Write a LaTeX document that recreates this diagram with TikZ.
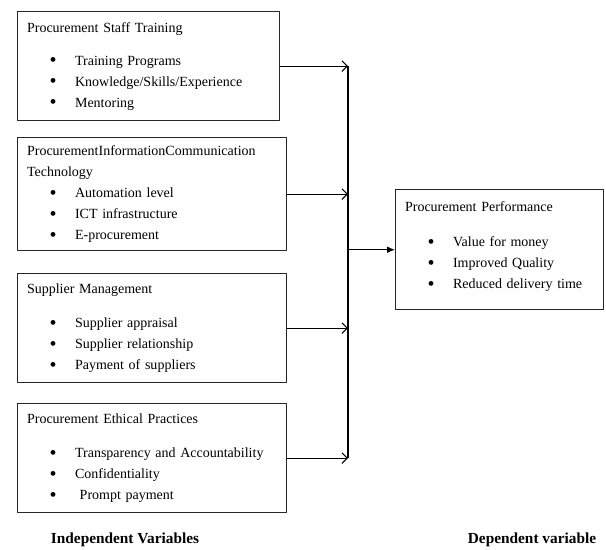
\documentclass[tikz,border=0pt]{standalone}
\usepackage{fontspec}
\setmainfont{Liberation Serif}
\usetikzlibrary{arrows.meta}
\newcommand{\bitem}[1]{\hspace*{17pt}\makebox[19pt][l]{\raisebox{-0.25ex}{\fontsize{15}{15}\selectfont\textbullet}}#1}

\begin{document}
\begin{tikzpicture}[x=0.75pt, y=-0.75pt, line join=round,
  varbox/.style={draw=black!85, line width=1.1pt, anchor=north west, align=left,
    inner xsep=7pt, font=\fontsize{10.5}{15.75}\selectfont},
  feed/.style={line width=0.8pt, -{Straight Barb[length=4pt,width=8pt]}},
  caption/.style={font=\fontsize{11.5}{14}\selectfont\bfseries}]

% canvas
\useasboundingbox (0,0) rectangle (606,549);

% independent variables
\node[varbox, text width=182.5pt, minimum height=81.75pt] (train) at (17,11)
  {Procurement Staff Training\\[9pt]
   \bitem{Training Programs}\\ \bitem{Knowledge/Skills/Experience}\\ \bitem{Mentoring}};
\node[varbox, text width=187.75pt, minimum height=84.75pt] (ict) at (17,137)
  {ProcurementInformationCommunication\\ Technology\\
   \bitem{Automation level}\\ \bitem{ICT infrastructure}\\ \bitem{E-procurement}};
\node[varbox, text width=187.75pt, minimum height=81.75pt] (supply) at (17,273)
  {Supplier Management\\[10pt]
   \bitem{Supplier appraisal}\\ \bitem{Supplier relationship}\\ \bitem{Payment of suppliers}};
\node[varbox, text width=187.75pt, minimum height=81.75pt] (ethics) at (17,403)
  {Procurement Ethical Practices\\[10pt]
   \bitem{Transparency and Accountability}\\ \bitem{Confidentiality}\\ \bitem{~Prompt payment}};

% dependent variable
\node[varbox, text width=142pt, minimum height=90pt] (perf) at (395,189)
  {Procurement Performance\\[11pt]
   \bitem{Value for money}\\ \bitem{Improved Quality}\\ \bitem{Reduced delivery time}\\[-9pt]~};

% connectors
\coordinate (bus) at (348,0);
\draw[feed] (train.east) -- (train.east -| bus);
\draw[feed] (ict.east) -- (ict.east -| bus);
\draw[feed] (supply.east) -- (supply.east -| bus);
\draw[feed] (ethics.east) -- (ethics.east -| bus);
\draw[line width=0.8pt] (train.east -| bus) -- (ethics.east -| bus);
\draw[line width=0.8pt, -{Latex[length=6pt,width=5pt]}] (bus |- perf.west) -- (perf.west);

% labels
\node[caption] (indep) at (125,540) {Independent Variables};
\node[caption] (dep) at (532,540) {Dependent variable};

\end{tikzpicture}
\end{document}
